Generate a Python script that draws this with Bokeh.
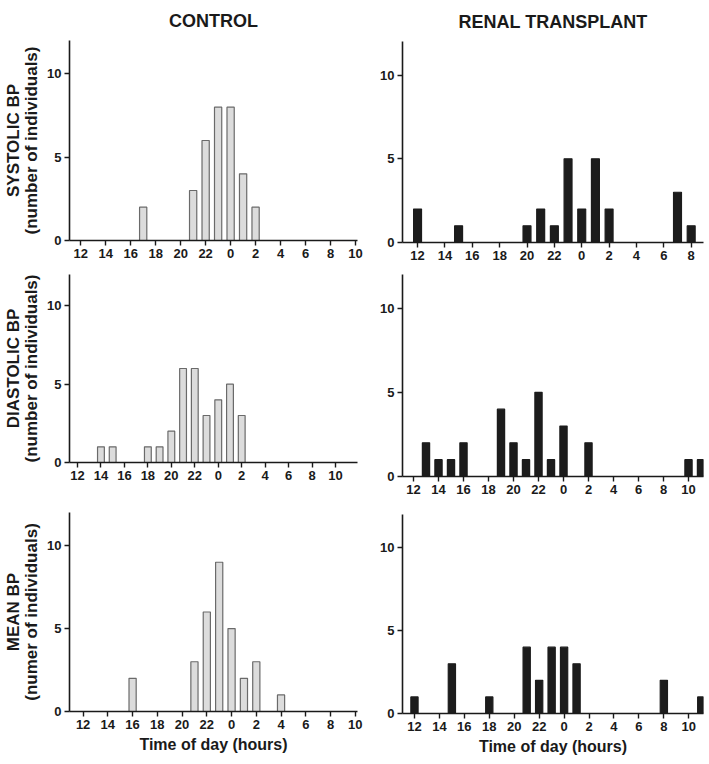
from bokeh.plotting import figure
from bokeh.layouts import row, column
from bokeh.models import Range1d, FixedTicker
from bokeh.embed import file_html
from bokeh.resources import INLINE

FONT = "Liberation Sans"
TXT = "#1a1a1a"

# x ticks every 2 hours from 12:00 to 10:00 next day (axis hours 12..35)
tick_hours = list(range(12, 36, 2))
tick_labels = {t: str(t % 24) for t in tick_hours}
y_ticks = [0, 5, 10]

# --- data: clock hour of bar, number of individuals ---
ctrl_sys_hours = [17, 21, 22, 23, 0, 1, 2]
ctrl_sys_counts = [2, 3, 6, 8, 8, 4, 2]

renal_sys_hours = [12, 15, 20, 21, 22, 23, 0, 1, 2, 7, 8]
renal_sys_counts = [2, 1, 1, 2, 1, 5, 2, 5, 2, 3, 1]

ctrl_dia_hours = [14, 15, 18, 19, 20, 21, 22, 23, 0, 1, 2]
ctrl_dia_counts = [1, 1, 1, 1, 2, 6, 6, 3, 4, 5, 3]

renal_dia_hours = [13, 14, 15, 16, 19, 20, 21, 22, 23, 0, 2, 10, 11]
renal_dia_counts = [2, 1, 1, 2, 4, 2, 1, 5, 1, 3, 2, 1, 1]

ctrl_mean_hours = [16, 21, 22, 23, 0, 1, 2, 4]
ctrl_mean_counts = [2, 3, 6, 9, 5, 2, 3, 1]

renal_mean_hours = [12, 15, 18, 21, 22, 23, 0, 1, 8, 11]
renal_mean_counts = [1, 3, 1, 4, 2, 4, 4, 3, 2, 1]

CTRL_FILL, CTRL_LINE = "#dcdcdc", "#6a6a6a"
RENAL_FILL, RENAL_LINE = "#1c1c1c", "#1c1c1c"


def to_axis(hours):
    return [h if h >= 12 else h + 24 for h in hours]


def panel(hours, counts, xr, width, height, bl, br, bt, bb, fill, line,
          ylabel=None, xlabel=None, title=None):
    p = figure(width=width, height=height, x_range=Range1d(*xr),
               y_range=Range1d(0, 12), output_backend="svg",
               toolbar_location=None, min_border_left=bl, min_border_right=br,
               min_border_top=bt, min_border_bottom=bb)
    p.vbar(x=to_axis(hours), top=counts, bottom=0, width=0.58,
           fill_color=fill, line_color=line, line_width=1.2)
    p.xgrid.visible = False
    p.ygrid.visible = False
    p.outline_line_color = None
    for ax in (p.xaxis[0], p.yaxis[0]):
        ax.axis_line_width = 1.6
        ax.axis_line_color = TXT
        ax.major_tick_line_color = TXT
        ax.major_tick_line_width = 1.4
        ax.major_tick_out = 5
        ax.major_tick_in = 0
        ax.minor_tick_line_color = None
        ax.major_label_text_font = FONT
        ax.major_label_text_font_style = "bold"
        ax.major_label_text_font_size = "13px"
        ax.major_label_text_color = TXT
        ax.major_label_standoff = 3
        ax.axis_label_text_font = FONT
        ax.axis_label_text_font_style = "bold"
        ax.axis_label_text_color = TXT
    p.xaxis.ticker = FixedTicker(ticks=tick_hours)
    p.xaxis.major_label_overrides = tick_labels
    p.yaxis.ticker = FixedTicker(ticks=y_ticks)
    if ylabel:
        p.yaxis.axis_label = ylabel
        p.yaxis.axis_label_text_font_size = "17px"
        p.yaxis.axis_label_text_line_height = 0.95
        p.yaxis.axis_label_standoff = 3
    if xlabel:
        p.xaxis.axis_label = xlabel
        p.xaxis.axis_label_text_font_size = "16px"
        p.xaxis.axis_label_standoff = 4
    if title:
        p.title.text = title
        p.title.text_font = FONT
        p.title.text_font_style = "bold"
        p.title.text_font_size = "18px"
        p.title.text_color = TXT
        p.title.align = "center"
        p.title.vertical_align = "top"
        p.title.standoff = 16
    return p


LW, RW = 374, 333

L1 = panel(ctrl_sys_hours, ctrl_sys_counts, (11.1, 34.16), LW, 270, 68, 17, 40, 30,
           CTRL_FILL, CTRL_LINE, ylabel="SYSTOLIC BP\n(number of individuals)",
           title="CONTROL")
L2 = panel(ctrl_dia_hours, ctrl_dia_counts, (11.32, 35.87), LW, 222, 68, 17, 4, 30,
           CTRL_FILL, CTRL_LINE, ylabel="DIASTOLIC BP\n(number of individuals)")
L3 = panel(ctrl_mean_hours, ctrl_mean_counts, (10.9, 34.18), LW, 271, 68, 17, 20, 52,
           CTRL_FILL, CTRL_LINE, ylabel="MEAN BP\n(numer of individuals)",
           xlabel="Time of day (hours)")

R1 = panel(renal_sys_hours, renal_sys_counts, (10.9, 32.9), RW, 272, 28, 4, 41, 30,
           RENAL_FILL, RENAL_LINE, title="RENAL TRANSPLANT")
R2 = panel(renal_dia_hours, renal_dia_counts, (11.12, 35.2), RW, 234, 28, 4, 2, 30,
           RENAL_FILL, RENAL_LINE)
R3 = panel(renal_mean_hours, renal_mean_counts, (11.04, 35.18), RW, 257, 28, 4, 8, 50,
           RENAL_FILL, RENAL_LINE, xlabel="Time of day (hours)")

layout = row(column(L1, L2, L3, spacing=0), column(R1, R2, R3, spacing=0), spacing=0)

open("out.html", "w").write(file_html(layout, INLINE))
